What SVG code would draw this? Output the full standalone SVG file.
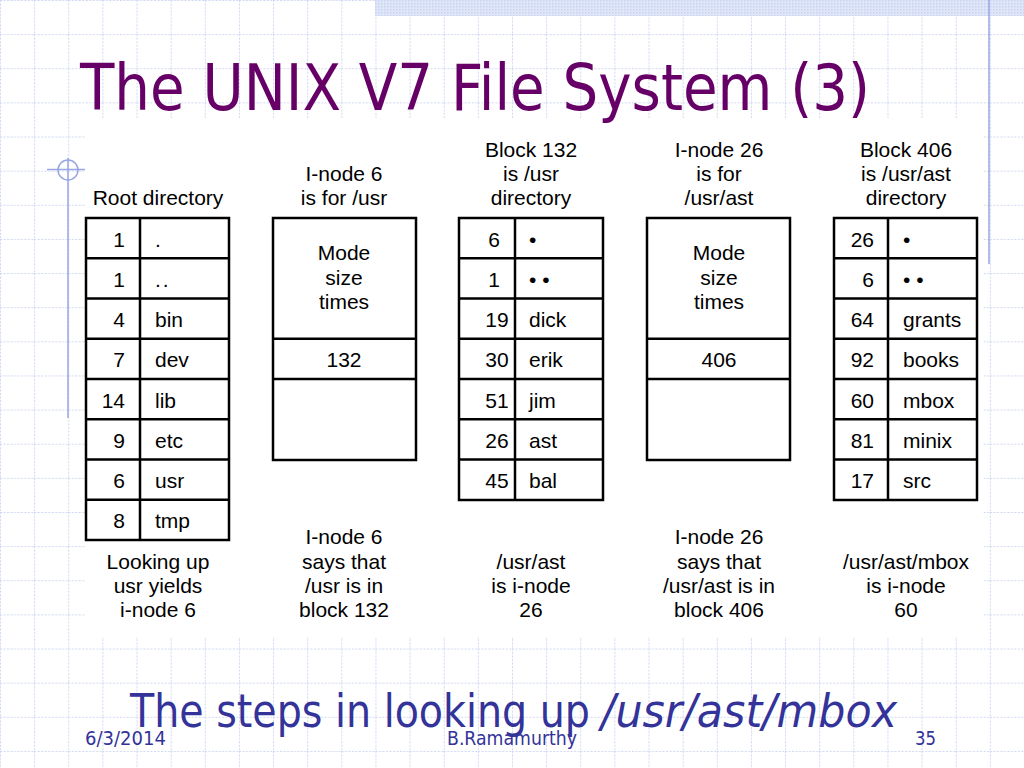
<svg xmlns="http://www.w3.org/2000/svg" width="1024" height="768" viewBox="0 0 1024 768">
<defs>
<pattern id="grid" x="0" y="0" width="34.1333" height="34.1333" patternUnits="userSpaceOnUse">
<path d="M0 0.5 H34.1333 M0.5 0 V34.1333" fill="none" stroke="#cfd7f0" stroke-width="1" stroke-dasharray="2,1.5"/>
</pattern>
<pattern id="dots" x="0" y="0" width="3" height="3" patternUnits="userSpaceOnUse">
<rect width="3" height="3" fill="#dfe6f8"/>
<rect width="1.5" height="1.5" fill="#c9d4f2"/>
</pattern>
</defs>
<style>
.t{font-family:"Liberation Sans",Arial,sans-serif;font-size:21px;fill:#000}
.c{text-anchor:middle}
.e{text-anchor:end}
.box{fill:#fff;stroke:#000;stroke-width:2.5}
.ln{stroke:#000;stroke-width:2.5;fill:none}
.deco{stroke:#98a6e2;stroke-width:1.5;fill:none}
.foot{font-family:"DejaVu Sans Condensed","DejaVu Sans",sans-serif;fill:#333399;font-size:19px}
</style>
<rect width="1024" height="768" fill="#fff"/>
<rect width="1024" height="768" fill="url(#grid)"/>
<rect x="375" y="0" width="649" height="16" fill="url(#dots)"/>
<rect x="85" y="118" width="898" height="519" fill="#fff"/>
<line class="deco" x1="989" y1="0" x2="989" y2="264"/>
<g id="crosshair">
<line class="deco" x1="68" y1="158" x2="68" y2="418"/>
<line class="deco" x1="47" y1="169.5" x2="85" y2="169.5"/>
<circle class="deco" cx="68" cy="170" r="10"/>
</g>
<text x="80" y="110" font-family="'DejaVu Sans Condensed','DejaVu Sans',sans-serif" font-size="64" fill="#660066" textLength="790" lengthAdjust="spacingAndGlyphs">The UNIX V7 File System (3)</text>

<g id="root-directory">
<text class="t c" x="158" y="205">Root directory</text>
<rect class="box" x="86" y="218" width="143" height="322"/>
<path class="ln" d="M140 218 V540 M86 258.25 H229 M86 298.5 H229 M86 338.75 H229 M86 379 H229 M86 419.25 H229 M86 459.5 H229 M86 499.75 H229"/>
<g class="t e">
<text x="125" y="246.5">1</text>
<text x="125" y="286.75">1</text>
<text x="125" y="327">4</text>
<text x="125" y="367.25">7</text>
<text x="125" y="407.5">14</text>
<text x="125" y="447.75">9</text>
<text x="125" y="488">6</text>
<text x="125" y="528.25">8</text>
</g>
<g class="t">
<text x="155" y="246.5">.</text>
<text x="155" y="286.75" letter-spacing="2">..</text>
<text x="155" y="327">bin</text>
<text x="155" y="367.25">dev</text>
<text x="155" y="407.5">lib</text>
<text x="155" y="447.75">etc</text>
<text x="155" y="488">usr</text>
<text x="155" y="528.25">tmp</text>
</g>
<text class="t c" x="158" y="569">Looking up</text>
<text class="t c" x="158" y="593">usr yields</text>
<text class="t c" x="158" y="617">i-node 6</text>
</g>

<g id="inode-6">
<text class="t c" x="344" y="181">I-node 6</text>
<text class="t c" x="344" y="205">is for /usr</text>
<rect class="box" x="273" y="218" width="143" height="242"/>
<path class="ln" d="M273 338.75 H416 M273 379 H416"/>
<text class="t c" x="344" y="260">Mode</text>
<text class="t c" x="344" y="285">size</text>
<text class="t c" x="344" y="309">times</text>
<text class="t c" x="344" y="367">132</text>
<text class="t c" x="344" y="544">I-node 6</text>
<text class="t c" x="344" y="569">says that</text>
<text class="t c" x="344" y="593">/usr is in</text>
<text class="t c" x="344" y="617">block 132</text>
</g>

<g id="block-132">
<text class="t c" x="531" y="157">Block 132</text>
<text class="t c" x="531" y="181">is /usr</text>
<text class="t c" x="531" y="205">directory</text>
<rect class="box" x="459" y="218" width="144" height="282"/>
<path class="ln" d="M515 218 V500 M459 258.25 H603 M459 298.5 H603 M459 338.75 H603 M459 379 H603 M459 419.25 H603 M459 459.5 H603"/>
<g class="t c">
<text x="494" y="246.5">6</text>
<text x="494" y="286.75">1</text>
<text x="497" y="327">19</text>
<text x="497" y="367.25">30</text>
<text x="497" y="407.5">51</text>
<text x="497" y="447.75">26</text>
<text x="497" y="488">45</text>
</g>
<g class="t">
<text x="529" y="246.5">•</text>
<text x="529" y="286.75">• •</text>
<text x="529" y="327">dick</text>
<text x="529" y="367.25">erik</text>
<text x="529" y="407.5">jim</text>
<text x="529" y="447.75">ast</text>
<text x="529" y="488">bal</text>
</g>
<text class="t c" x="531" y="569">/usr/ast</text>
<text class="t c" x="531" y="593">is i-node</text>
<text class="t c" x="531" y="617">26</text>
</g>

<g id="inode-26">
<text class="t c" x="719" y="157">I-node 26</text>
<text class="t c" x="719" y="181">is for</text>
<text class="t c" x="719" y="205">/usr/ast</text>
<rect class="box" x="647" y="218" width="143" height="242"/>
<path class="ln" d="M647 338.75 H790 M647 379 H790"/>
<text class="t c" x="719" y="260">Mode</text>
<text class="t c" x="719" y="285">size</text>
<text class="t c" x="719" y="309">times</text>
<text class="t c" x="719" y="367">406</text>
<text class="t c" x="719" y="544">I-node 26</text>
<text class="t c" x="719" y="569">says that</text>
<text class="t c" x="719" y="593">/usr/ast is in</text>
<text class="t c" x="719" y="617">block 406</text>
</g>

<g id="block-406">
<text class="t c" x="906" y="157">Block 406</text>
<text class="t c" x="906" y="181">is /usr/ast</text>
<text class="t c" x="906" y="205">directory</text>
<rect class="box" x="834" y="218" width="143" height="282"/>
<path class="ln" d="M888 218 V500 M834 258.25 H977 M834 298.5 H977 M834 338.75 H977 M834 379 H977 M834 419.25 H977 M834 459.5 H977"/>
<g class="t e">
<text x="874" y="246.5">26</text>
<text x="874" y="286.75">6</text>
<text x="874" y="327">64</text>
<text x="874" y="367.25">92</text>
<text x="874" y="407.5">60</text>
<text x="874" y="447.75">81</text>
<text x="874" y="488">17</text>
</g>
<g class="t">
<text x="903" y="246.5">•</text>
<text x="903" y="286.75">• •</text>
<text x="903" y="327">grants</text>
<text x="903" y="367.25">books</text>
<text x="903" y="407.5">mbox</text>
<text x="903" y="447.75">minix</text>
<text x="903" y="488">src</text>
</g>
<text class="t c" x="906" y="569">/usr/ast/mbox</text>
<text class="t c" x="906" y="593">is i-node</text>
<text class="t c" x="906" y="617">60</text>
</g>

<text class="foot" x="85" y="745" textLength="81" lengthAdjust="spacingAndGlyphs">6/3/2014</text>
<text class="foot" x="447" y="745" textLength="130" lengthAdjust="spacingAndGlyphs">B.Ramamurthy</text>
<text class="foot" x="915" y="745" textLength="21" lengthAdjust="spacingAndGlyphs">35</text>
<text x="130" y="727" font-family="'DejaVu Sans Condensed','DejaVu Sans',sans-serif" font-size="46" fill="#333399" textLength="460" lengthAdjust="spacingAndGlyphs">The steps in looking up</text>
<text x="601" y="727" font-family="'DejaVu Sans Condensed','DejaVu Sans',sans-serif" font-size="46" font-style="italic" fill="#333399" textLength="296" lengthAdjust="spacingAndGlyphs">/usr/ast/mbox</text>
</svg>
